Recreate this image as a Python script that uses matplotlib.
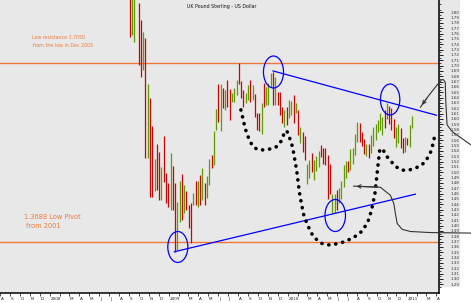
import matplotlib
matplotlib.use('Agg')
import numpy as np
import pandas as pd
import matplotlib.pyplot as plt
import matplotlib.dates as mdates
import matplotlib.transforms as mtransforms
from matplotlib.patches import Ellipse

# weekly GBP/USD bars, first bar in the week of 2 Sep 2008
first_week = '2008-09-02'
highs = [1.842, 1.832, 1.842, 1.865, 1.817, 1.786, 1.763, 1.752, 1.666, 1.639,
         1.587, 1.525, 1.553, 1.538, 1.510, 1.568, 1.499, 1.480, 1.536, 1.512,
         1.480, 1.444, 1.484, 1.497, 1.476, 1.465, 1.439, 1.442, 1.461, 1.484,
         1.484, 1.495, 1.508, 1.480, 1.493, 1.525, 1.532, 1.577, 1.619, 1.666,
         1.666, 1.658, 1.654, 1.673, 1.656, 1.649, 1.658, 1.673, 1.705, 1.671,
         1.654, 1.649, 1.664, 1.673, 1.664, 1.647, 1.611, 1.611, 1.630, 1.667,
         1.660, 1.667, 1.686, 1.688, 1.679, 1.651, 1.651, 1.622, 1.617, 1.622,
         1.635, 1.634, 1.645, 1.630, 1.617, 1.585, 1.575, 1.568, 1.515, 1.523,
         1.537, 1.523, 1.531, 1.539, 1.552, 1.545, 1.545, 1.533, 1.515, 1.460,
         1.460, 1.467, 1.470, 1.484, 1.513, 1.522, 1.522, 1.543, 1.545, 1.572,
         1.595, 1.593, 1.575, 1.562, 1.553, 1.553, 1.570, 1.584, 1.591, 1.598,
         1.611, 1.604, 1.617, 1.630, 1.625, 1.621, 1.600, 1.585, 1.590, 1.583,
         1.564, 1.566, 1.564, 1.589, 1.606]
lows = [1.754, 1.757, 1.744, 1.830, 1.701, 1.679, 1.692, 1.527, 1.527, 1.454,
        1.454, 1.465, 1.467, 1.448, 1.448, 1.482, 1.442, 1.435, 1.429, 1.429,
        1.351, 1.354, 1.407, 1.411, 1.424, 1.429, 1.396, 1.367, 1.439, 1.439,
        1.435, 1.439, 1.448, 1.439, 1.452, 1.476, 1.508, 1.514, 1.579, 1.594,
        1.577, 1.621, 1.617, 1.622, 1.598, 1.632, 1.632, 1.645, 1.666, 1.639,
        1.622, 1.630, 1.636, 1.632, 1.636, 1.604, 1.579, 1.577, 1.572, 1.622,
        1.626, 1.626, 1.660, 1.626, 1.626, 1.626, 1.607, 1.592, 1.585, 1.589,
        1.602, 1.607, 1.592, 1.611, 1.570, 1.555, 1.538, 1.523, 1.478, 1.490,
        1.500, 1.486, 1.502, 1.510, 1.528, 1.516, 1.513, 1.450, 1.460, 1.423,
        1.424, 1.430, 1.443, 1.450, 1.473, 1.490, 1.500, 1.505, 1.515, 1.533,
        1.556, 1.556, 1.549, 1.535, 1.530, 1.526, 1.536, 1.549, 1.560, 1.575,
        1.580, 1.570, 1.583, 1.600, 1.590, 1.579, 1.565, 1.547, 1.555, 1.546,
        1.536, 1.538, 1.551, 1.547, 1.583]
ups = [0, 1, 1, 1, 0, 0, 1, 0, 1, 0,
       0, 1, 0, 0, 1, 0, 0, 0, 1, 0,
       0, 1, 1, 0, 1, 0, 0, 0, 1, 0,
       1, 0, 1, 0, 1, 1, 0, 1, 1, 0,
       1, 0, 1, 0, 0, 1, 1, 1, 0, 0,
       0, 1, 1, 0, 1, 0, 0, 0, 1, 0,
       1, 1, 1, 0, 1, 0, 0, 0, 1, 0,
       1, 1, 0, 1, 0, 1, 0, 0, 1, 1,
       0, 1, 1, 1, 0, 0, 0, 0, 0, 1,
       1, 0, 1, 1, 1, 1, 0, 1, 1, 1,
       1, 0, 0, 0, 1, 0, 1, 1, 1, 1,
       1, 1, 0, 1, 0, 0, 0, 1, 1, 0,
       0, 1, 0, 1, 1]

resistance = 1.7050
pivot = 1.3688

# hand-drawn annotations, in (weeks after first bar, price)
upper_trend = ([63.0, 134.7], [1.690, 1.607])
lower_trend = ([19.7, 125.5], [1.351, 1.459])
circles = [(21.2, 1.360, 8.8, 0.058), (63.2, 1.688, 8.8, 0.060),
           (114.4, 1.6365, 8.5, 0.058), (90.3, 1.419, 9.0, 0.060)]
hs_weeks = [48.9, 50.1, 50.6, 51.4, 52.3, 53.3, 54.7, 56.9, 59.4, 62.0, 64.2, 66.1,
            67.2, 67.9, 69.0, 70.0, 71.6, 72.5, 73.4, 74.0, 74.6, 75.5, 76.6, 78.4,
            80.7, 84.2, 86.5, 89.0, 93.7, 98.2, 102.2, 104.6, 106.2, 107.2, 107.7,
            108.4, 109.1, 109.8, 110.9, 113.1, 116.7, 119.7, 122.6, 125.5, 127.7,
            129.9, 132.1, 133.5, 133.9]
hs_prices = [1.617, 1.595, 1.585, 1.574, 1.564, 1.555, 1.546, 1.542, 1.542, 1.544,
             1.547, 1.555, 1.564, 1.574, 1.578, 1.568, 1.547, 1.525, 1.503, 1.482,
             1.462, 1.440, 1.418, 1.399, 1.379, 1.367, 1.364, 1.364, 1.369, 1.377,
             1.390, 1.407, 1.428, 1.449, 1.459, 1.486, 1.514, 1.540, 1.545, 1.529,
             1.511, 1.504, 1.504, 1.508, 1.512, 1.520, 1.537, 1.557, 1.568]
arrow1_weeks = [150.0, 141.7, 139.4, 138.8, 138.6, 137.7, 136.9, 134.7, 131.2, 127.7]
arrow1_prices = [1.551, 1.576, 1.589, 1.636, 1.669, 1.674, 1.673, 1.662, 1.643, 1.622]
arrow2_weeks = [150.0, 132.1, 123.3, 119.7, 117.5, 116.7, 116.0, 114.5, 110.1, 98.4]
arrow2_prices = [1.386, 1.387, 1.389, 1.393, 1.404, 1.423, 1.442, 1.457, 1.472, 1.474]

start = mdates.date2num(pd.Timestamp(first_week))


def wk(w):
    return start + 7 * np.asarray(w, dtype=float)


fig = plt.figure(figsize=(4.71, 3.03), dpi=100, facecolor='white')
ax = fig.add_axes([0, 10 / 303, 439 / 471, 293 / 303])
ax.set_facecolor('#e8e8e8')
fig.add_artist(plt.Rectangle((439 / 471, 17 / 303), 20 / 471, 286 / 303,
                             transform=fig.transFigure, color='#e8e8e8', zorder=-5))

dates = mdates.date2num(pd.date_range(first_week, periods=len(highs), freq='7D'))
colors = ['#5e9a00' if u else '#d40000' for u in ups]
ax.vlines(dates, lows, highs, colors=colors, linewidth=0.9, zorder=3)

ax.axhline(resistance, color='#f07838', lw=1.0, zorder=2)
ax.axhline(pivot, color='#f07838', lw=1.0, zorder=2)

ax.plot(wk(upper_trend[0]), upper_trend[1], color='#0000ff', lw=0.9, zorder=4)
ax.plot(wk(lower_trend[0]), lower_trend[1], color='#0000ff', lw=0.9, zorder=4)
for cw, cp, w, h in circles:
    ax.add_patch(Ellipse((wk(cw), cp), 7 * w, h, fill=False, edgecolor='#0000ff',
                         lw=0.9, zorder=4))

ax.plot(wk(hs_weeks), hs_prices, color='black', lw=2.6, linestyle=(0, (0.05, 1.9)),
        dash_capstyle='round', zorder=5)

ax.plot(wk(arrow1_weeks), arrow1_prices, color='#333333', lw=0.8, clip_on=False, zorder=6)
ax.annotate('', xy=(wk(arrow1_weeks[-1]), arrow1_prices[-1]),
            xytext=(wk(arrow1_weeks[-2]), arrow1_prices[-2]),
            arrowprops=dict(arrowstyle='->', color='#333333', lw=0.8,
                            mutation_scale=6), zorder=6)
ax.plot(wk(arrow2_weeks), arrow2_prices, color='#333333', lw=0.8, clip_on=False, zorder=6)
ax.annotate('', xy=(wk(arrow2_weeks[-1]), arrow2_prices[-1]),
            xytext=(wk(arrow2_weeks[-2]), arrow2_prices[-2]),
            arrowprops=dict(arrowstyle='->', color='#333333', lw=0.8,
                            mutation_scale=6), zorder=6)

ax.text(0.426, 0.977, 'UK Pound Sterling - US Dollar', transform=ax.transAxes,
        fontsize=3.4, va='center', ha='left', color='#111111')
ax.text(0.072, 0.872, 'Low resistance 1.7050', transform=ax.transAxes,
        fontsize=3.4, va='center', ha='left', color='#f07838')
ax.text(0.076, 0.846, 'from the low in Dec 2005', transform=ax.transAxes,
        fontsize=3.4, va='center', ha='left', color='#f07838')
ax.text(0.055, 0.259, '1.3688 Low Pivot', transform=ax.transAxes,
        fontsize=4.8, va='center', ha='left', color='#f07838')
ax.text(0.059, 0.229, 'from 2001', transform=ax.transAxes,
        fontsize=4.8, va='center', ha='left', color='#f07838')

ax.set_xlim(mdates.date2num(pd.Timestamp('2007-08-05')),
            mdates.date2num(pd.Timestamp('2011-04-11')))
ax.set_ylim(1.2737, 1.823)

for side in ['top', 'left']:
    ax.spines[side].set_visible(False)
for side in ['right', 'bottom']:
    ax.spines[side].set_color('black')
    ax.spines[side].set_linewidth(1.1)

ax.yaxis.tick_right()
yt = np.round(np.arange(1.29, 1.805, 0.01), 2)
ax.set_yticks(yt)
ax.set_yticklabels(['%.2f' % v for v in yt])
ax.set_yticks(np.round(np.arange(1.285, 1.82, 0.01), 3), minor=True)
ax.tick_params(axis='y', which='major', direction='out', length=2.6, width=0.6,
               pad=5.5, labelsize=3, labelcolor='#333333')
ax.tick_params(axis='y', which='minor', direction='out', length=1.5, width=0.5)

months = pd.date_range('2007-08-01', '2011-04-01', freq='MS')
mlabels = []
for m in months:
    if m.month == 1:
        mlabels.append(str(m.year))
    elif m.month == 2:
        mlabels.append('')
    else:
        mlabels.append(m.strftime('%b')[0])
ax.set_xticks(mdates.date2num(months))
ax.set_xticklabels(mlabels)
ax.tick_params(axis='x', direction='out', length=2.2, width=0.5, pad=0.6,
               labelsize=3, labelcolor='#222222')
offset = mtransforms.ScaledTranslation(0.8 / 100, 0, fig.dpi_scale_trans)
for lbl in ax.get_xticklabels():
    lbl.set_horizontalalignment('left')
    lbl.set_transform(lbl.get_transform() + offset)

fig.savefig('out.png', dpi=100, facecolor='white')
